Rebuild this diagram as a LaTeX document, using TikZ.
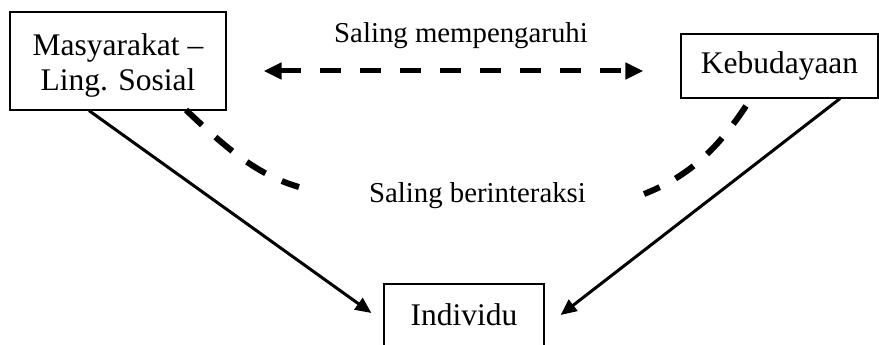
\documentclass[tikz,border=0pt]{standalone}
\usepackage{fontspec}
\setmainfont{Liberation Serif}
\usetikzlibrary{arrows.meta}
\begin{document}
\begin{tikzpicture}[x=1pt,y=-1pt,
  boxnode/.style={draw,line width=1.2pt,inner sep=0pt,align=center,font=\fontsize{31.5}{35}\selectfont},
  lbl/.style={inner sep=0pt,anchor=base,font=\fontsize{28.8}{32}\selectfont},
  solidarrow/.style={line width=3pt,-{Triangle[length=16pt,width=14pt]}},
  dasharrow/.style={line width=5pt,dash pattern=on 21pt off 19pt,{Triangle[length=18pt,width=16pt]}-{Triangle[length=18pt,width=16pt]}},
  dashcurve/.style={line width=6pt,dash pattern=on 22pt off 18pt}]
\useasboundingbox (0,0) rectangle (879,345);
\node[boxnode,minimum width=216pt,minimum height=98pt] (mas) at (118,61) {};
\node[boxnode,draw=none] (mastext) at (118,65) {Masyarakat –\\Ling. Sosial};
\node[boxnode,minimum width=197pt,minimum height=64pt] (keb) at (779.5,66) {Kebudayaan};
\node[boxnode,minimum width=160pt,minimum height=62pt] (ind) at (464,315) {Individu};
\node[lbl] (lab1) at (461,43) {Saling mempengaruhi};
\node[lbl] (lab2) at (477.5,202) {Saling berinteraksi};
\coordinate (dl) at ([xshift=37pt,yshift=-10pt]mas.east);
\coordinate (dr) at ([xshift=-37pt,yshift=-5pt]keb.west);
\draw[dasharrow] (dl) -- (dr);
\draw[solidarrow] ([xshift=-29pt]mas.south) -- ([xshift=-12pt,yshift=2pt]ind.west);
\draw[solidarrow] ([xshift=60.5pt]keb.south) -- ([xshift=16pt]ind.east);
\coordinate (cl1) at (186,110);
\coordinate (cl2) at (299,187);
\coordinate (cr1) at (746,106);
\coordinate (cr2) at (644,194);
\draw[dashcurve] (cl1) .. controls (226,148) and (257,175) .. (cl2);
\draw[dashcurve] (cr1) .. controls (718,148) and (690,176) .. (cr2);
\end{tikzpicture}
\end{document}
